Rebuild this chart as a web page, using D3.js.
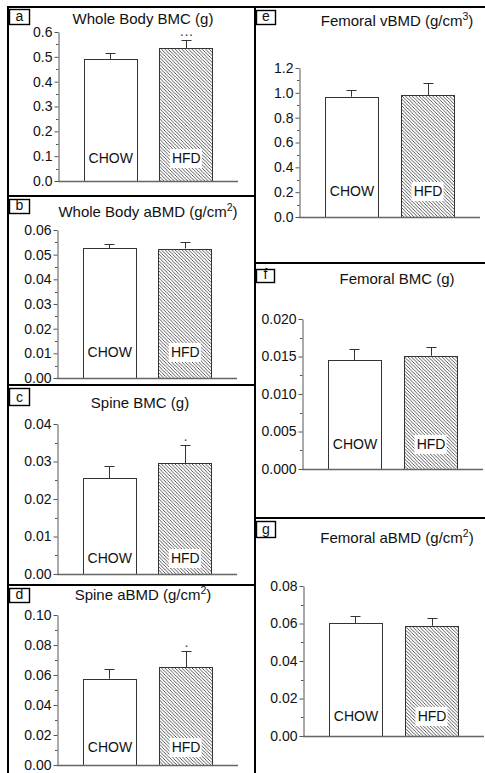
<!DOCTYPE html>
<html><head><meta charset="utf-8">
<script src="https://cdn.jsdelivr.net/npm/d3@7"></script>
<style>html,body{margin:0;padding:0;background:#fff;} svg{display:block;font-family:"Liberation Sans",Arial,sans-serif;}</style>
</head><body><svg id="chart" width="485" height="773"></svg>
<script>
// ---- data ----
const categories = ["CHOW", "HFD"];
const panelLetters = ["a", "b", "c", "d", "e", "f", "g"];
const titleMain = ["Whole Body BMC (g)", "Whole Body aBMD (g/cm", "Spine BMC (g)", "Spine aBMD (g/cm", "Femoral vBMD (g/cm", "Femoral BMC (g)", "Femoral aBMD (g/cm"];
const titleSup = ["", "2", "", "2", "3", "", "2"];
const titleEnd = ["", ")", "", ")", ")", "", ")"];
const chowMeans = [0.490, 0.0527, 0.0255, 0.0575, 0.969, 0.01453, 0.0601];
const chowErrors = [0.027, 0.0018, 0.0033, 0.0063, 0.054, 0.00143, 0.0039];
const hfdMeans = [0.535, 0.0525, 0.0295, 0.0651, 0.983, 0.0151, 0.0588];
const hfdErrors = [0.031, 0.0027, 0.0049, 0.0107, 0.099, 0.0012, 0.0039];
const significance = ["\u00b7\u00b7\u00b7", "", "\u00b7", "\u00b7", "", "", ""];
const yMax = [0.6, 0.06, 0.04, 0.10, 1.2, 0.020, 0.08];
const yTickStep = [0.1, 0.01, 0.01, 0.02, 0.2, 0.005, 0.02];
const yTickDecimals = [1, 2, 2, 2, 1, 3, 2];

// ---- layout (positions only) ----
const layout = [
  {lx: 9, ly: 9, lw: 20, lh: 15, ax0: 58, ax1: 238, yTop: 32, yBot: 181, tx: 143, ty: 24, lab: 18},
  {lx: 9, ly: 199, lw: 20, lh: 14, ax0: 57, ax1: 237, yTop: 230, yBot: 378, tx: 148, ty: 217, lab: 21},
  {lx: 9, ly: 388, lw: 20, lh: 17, ax0: 57, ax1: 237, yTop: 424, yBot: 574, tx: 140, ty: 408, lab: 11},
  {lx: 9, ly: 588, lw: 20, lh: 14, ax0: 57, ax1: 238, yTop: 615, yBot: 765, tx: 143, ty: 600, lab: 13},
  {lx: 256, ly: 10, lw: 19, lh: 14, ax0: 299, ax1: 480, yTop: 68, yBot: 217, tx: 397, ty: 26, lab: 21},
  {lx: 256, ly: 269, lw: 18, lh: 13, ax0: 302, ax1: 483, yTop: 319, yBot: 469, tx: 397, ty: 284, lab: 20},
  {lx: 256, ly: 521, lw: 19, lh: 16, ax0: 303, ax1: 484, yTop: 586, yBot: 736, tx: 397, ty: 543, lab: 15}
];

const svg = d3.select("#chart");
const defs = svg.append("defs");
const s = 3.4;
const pat = defs.append("pattern").attr("id", "hatch").attr("patternUnits", "userSpaceOnUse")
  .attr("width", s).attr("height", s);
pat.append("rect").attr("width", s).attr("height", s).attr("fill", "#fff");
pat.append("path")
  .attr("d", `M0,0L${s},${s}M${-1},${s - 1}L1,${s + 1}M${s - 1},-1L${s + 1},1`)
  .attr("stroke", "#3a3a3a").attr("stroke-width", 0.85);

// frames
const frame = svg.append("g").attr("stroke", "#000").attr("stroke-width", 2);
frame.append("line").attr("x1", 8).attr("x2", 8).attr("y1", 6).attr("y2", 773);
frame.append("line").attr("x1", 255).attr("x2", 255).attr("y1", 6).attr("y2", 773);
frame.append("line").attr("x1", 7).attr("x2", 485).attr("y1", 7).attr("y2", 7);
[196, 385, 585].forEach(y => frame.append("line").attr("x1", 8).attr("x2", 255).attr("y1", y).attr("y2", y));
[263, 518].forEach(y => frame.append("line").attr("x1", 255).attr("x2", 485).attr("y1", y).attr("y2", y));

panelLetters.forEach((letter, i) => {
  const L = layout[i];
  const g = svg.append("g");
  // label box
  g.append("rect").attr("x", L.lx + 0.5).attr("y", L.ly + 0.5).attr("width", L.lw).attr("height", L.lh)
    .attr("fill", "#fff").attr("stroke", "#000").attr("stroke-width", 1.4);
  g.append("text").attr("x", L.lx + L.lw / 2 + 0.5).attr("y", L.ly + L.lh - 3)
    .attr("text-anchor", "middle").attr("font-size", 14).attr("fill", "#111").text(letter);
  // title
  const t = g.append("text").attr("x", L.tx).attr("y", L.ty).attr("text-anchor", "middle")
    .attr("font-size", 15).attr("fill", "#111");
  t.append("tspan").text(titleMain[i]);
  if (titleSup[i]) {
    t.append("tspan").attr("dy", -6).attr("font-size", 10.5).text(titleSup[i]);
    t.append("tspan").attr("dy", 6).text(titleEnd[i]);
  }

  const y = d3.scaleLinear().domain([0, yMax[i]]).range([L.yBot, L.yTop]);
  const x = d3.scaleBand().domain(categories).range([L.ax0, L.ax1]).paddingInner(0.3).paddingOuter(0.34);
  const step = yTickStep[i];
  const nMaj = Math.round(yMax[i] / step);
  const major = d3.range(0, nMaj + 1).map(k => k * step);
  const minor = d3.range(0, nMaj).map(k => (k + 0.5) * step);

  const ax = g.append("g").attr("transform", `translate(${L.ax0 + 0.5},0)`)
    .call(d3.axisLeft(y).tickValues(major).tickFormat(d3.format(`.${yTickDecimals[i]}f`))
      .tickSize(4).tickSizeOuter(0).tickPadding(2));
  ax.select(".domain").attr("stroke", "#555");
  ax.selectAll(".tick line").attr("stroke", "#555");
  ax.selectAll(".tick text").attr("font-size", 14).attr("fill", "#111")
    .attr("font-family", "'Liberation Sans',Arial,sans-serif");
  g.selectAll(".minor").data(minor).enter().append("line")
    .attr("x1", L.ax0 - 2).attr("x2", L.ax0 + 0.5)
    .attr("y1", d => Math.round(y(d)) + 0.5).attr("y2", d => Math.round(y(d)) + 0.5)
    .attr("stroke", "#555");

  const rows = [
    {cat: categories[0], mean: chowMeans[i], err: chowErrors[i], fill: "#fff", sig: ""},
    {cat: categories[1], mean: hfdMeans[i], err: hfdErrors[i], fill: "url(#hatch)", sig: significance[i]}
  ];
  // error bars
  rows.forEach(r => {
    const cx = Math.round(x(r.cat) + x.bandwidth() / 2) + 0.5;
    g.append("line").attr("x1", cx).attr("x2", cx).attr("y1", y(r.mean)).attr("y2", Math.round(y(r.mean + r.err)) + 0.5)
      .attr("stroke", "#333").attr("stroke-width", 1);
    g.append("line").attr("x1", cx - 5).attr("x2", cx + 5)
      .attr("y1", Math.round(y(r.mean + r.err)) + 0.5).attr("y2", Math.round(y(r.mean + r.err)) + 0.5)
      .attr("stroke", "#333").attr("stroke-width", 1);
    if (r.sig) {
      g.append("text").attr("x", cx).attr("y", y(r.mean + r.err) - 1).attr("text-anchor", "middle")
        .attr("font-size", 14).attr("fill", "#444").text(r.sig);
    }
  });
  // bars
  rows.forEach(r => {
    g.append("rect").attr("x", Math.round(x(r.cat)) + 0.5).attr("y", Math.round(y(r.mean)) + 0.5)
      .attr("width", Math.round(x.bandwidth())).attr("height", Math.round(y(0)) - Math.round(y(r.mean)))
      .attr("fill", r.fill).attr("stroke", "#333").attr("stroke-width", 1);
  });
  // baseline
  g.append("line").attr("x1", L.ax0).attr("x2", L.ax1).attr("y1", L.yBot + 0.5).attr("y2", L.yBot + 0.5)
    .attr("stroke", "#666").attr("stroke-width", 1.6);
  // category labels
  rows.forEach((r, k) => {
    const cx = x(r.cat) + x.bandwidth() / 2;
    if (k === 1) {
      g.append("rect").attr("x", cx - 16).attr("y", L.yBot - L.lab - 14).attr("width", 32).attr("height", 19)
        .attr("fill", "#fff");
    }
    g.append("text").attr("x", cx + 0.5).attr("y", L.yBot - L.lab).attr("text-anchor", "middle")
      .attr("font-size", 14).attr("fill", "#111").text(r.cat);
  });
});
</script></body></html>
